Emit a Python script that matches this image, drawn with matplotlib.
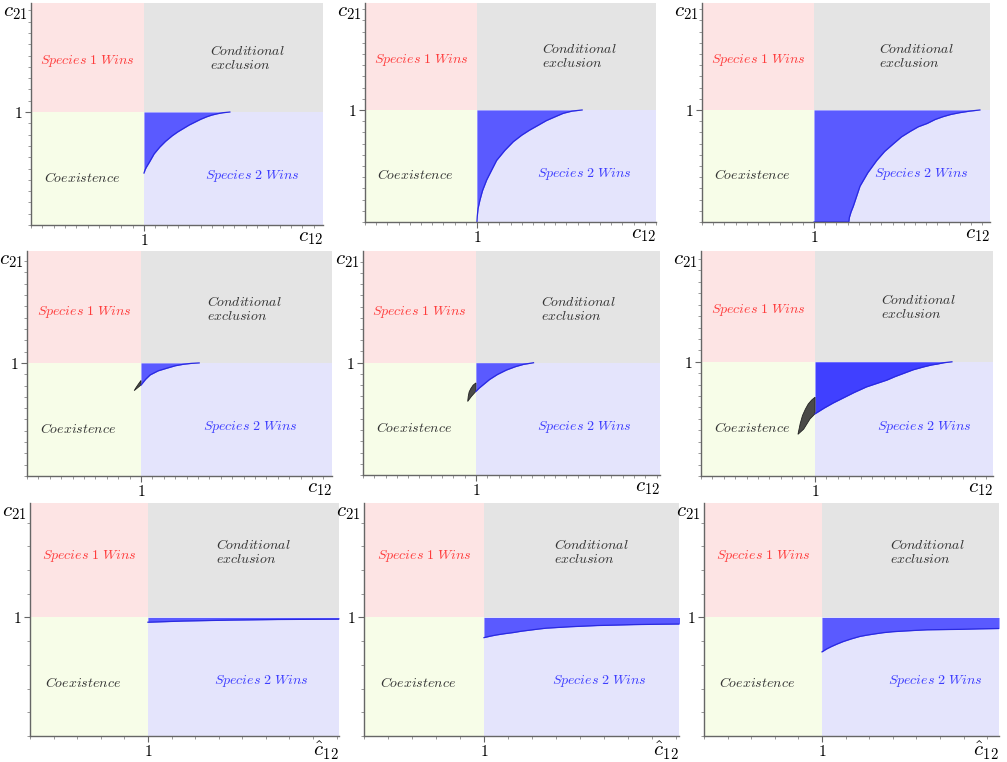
import numpy as np
import matplotlib
matplotlib.use('Agg')
import matplotlib.pyplot as plt
from matplotlib.ticker import MultipleLocator, FixedLocator

plt.rcParams['mathtext.fontset'] = 'cm'
plt.rcParams['font.family'] = 'serif'
plt.rcParams['font.serif'] = ['DejaVu Serif']

# competition threshold on both axes
threshold = 1.0

# lower edge of the blue (bistable) band, one pair per panel
lo_11_x = [1.0, 1.01, 1.02, 1.05, 1.09, 1.14, 1.19, 1.25, 1.30, 1.35, 1.40, 1.45, 1.50,
           1.555, 1.60, 1.65, 1.70, 1.76]
lo_11_y = [0.46, 0.49, 0.51, 0.56, 0.63, 0.69, 0.74, 0.79, 0.825, 0.855, 0.885, 0.91, 0.935,
           0.958, 0.973, 0.985, 0.994, 1.0]
lo_12_x = [1.0, 1.003, 1.01, 1.027, 1.05, 1.087, 1.13, 1.176, 1.25, 1.325, 1.40, 1.47, 1.55,
           1.62, 1.70, 1.77, 1.85, 1.94]
lo_12_y = [0.0, 0.05, 0.12, 0.196, 0.28, 0.375, 0.46, 0.55, 0.64, 0.717, 0.775, 0.82, 0.865,
           0.905, 0.94, 0.97, 0.99, 1.0]
lo_13_x = [1.0, 1.31, 1.315, 1.33, 1.35, 1.38, 1.41, 1.48, 1.56, 1.63, 1.71, 1.78, 1.86,
           1.93, 2.01, 2.08, 2.15, 2.22, 2.30, 2.39, 2.48]
lo_13_y = [0.0, 0.0, 0.04, 0.09, 0.14, 0.23, 0.32, 0.44, 0.55, 0.63, 0.70, 0.76, 0.81,
           0.85, 0.88, 0.915, 0.94, 0.96, 0.976, 0.99, 1.0]
lo_21_x = [1.0, 1.04, 1.08, 1.15, 1.225, 1.30, 1.37, 1.44, 1.51]
lo_21_y = [0.805, 0.855, 0.894, 0.93, 0.953, 0.975, 0.988, 0.996, 1.0]
lo_22_x = [1.0, 1.03, 1.06, 1.12, 1.19, 1.27, 1.35, 1.42, 1.51]
lo_22_y = [0.745, 0.775, 0.80, 0.85, 0.895, 0.935, 0.965, 0.985, 1.0]
lo_23_x = [1.0, 1.04, 1.08, 1.16, 1.22, 1.28, 1.34, 1.395, 1.45, 1.51, 1.57, 1.63, 1.70,
           1.78, 1.86, 1.95, 2.02, 2.07, 2.13, 2.20]
lo_23_y = [0.545, 0.57, 0.595, 0.64, 0.67, 0.70, 0.73, 0.755, 0.78, 0.80, 0.82, 0.84, 0.87,
           0.90, 0.93, 0.955, 0.972, 0.98, 0.992, 1.0]
lo_31_x = [1.0, 1.3, 1.7, 2.1, 2.62]
lo_31_y = [0.96, 0.97, 0.978, 0.983, 0.986]
lo_32_x = [1.0, 1.05, 1.1, 1.17, 1.245, 1.31, 1.38, 1.45, 1.52, 1.62, 1.72, 1.83, 1.94,
           2.1, 2.25, 2.45, 2.63]
lo_32_y = [0.83, 0.842, 0.852, 0.863, 0.873, 0.884, 0.893, 0.902, 0.91, 0.916, 0.922, 0.927,
           0.932, 0.936, 0.94, 0.943, 0.945]
lo_33_x = [1.0, 1.04, 1.08, 1.13, 1.18, 1.25, 1.32, 1.38, 1.45, 1.52, 1.60, 1.70, 1.79,
           1.89, 2.03, 2.17, 2.33, 2.5]
lo_33_y = [0.71, 0.735, 0.755, 0.777, 0.797, 0.82, 0.84, 0.851, 0.862, 0.872, 0.88, 0.886,
           0.891, 0.896, 0.898, 0.90, 0.904, 0.907]

# dark slivers left of c12 = 1 (outer and inner edge, sharing the tip)
sl_21_out_x = [0.94, 0.955, 0.975, 1.0]
sl_21_out_y = [0.755, 0.78, 0.81, 0.845]
sl_21_in_x = [0.94, 0.97, 1.0]
sl_21_in_y = [0.755, 0.78, 0.805]
sl_22_out_x = [0.927, 0.932, 0.94, 0.955, 0.975, 1.0]
sl_22_out_y = [0.655, 0.70, 0.74, 0.77, 0.80, 0.82]
sl_22_in_x = [0.927, 0.96, 1.0]
sl_22_in_y = [0.655, 0.70, 0.745]
sl_23_out_x = [0.85, 0.87, 0.89, 0.915, 0.94, 0.97, 1.0]
sl_23_out_y = [0.365, 0.46, 0.53, 0.585, 0.63, 0.665, 0.69]
sl_23_in_x = [0.85, 0.90, 0.956, 1.0]
sl_23_in_y = [0.365, 0.41, 0.50, 0.545]

lower_x = [lo_11_x, lo_12_x, lo_13_x, lo_21_x, lo_22_x, lo_23_x, lo_31_x, lo_32_x, lo_33_x]
lower_y = [lo_11_y, lo_12_y, lo_13_y, lo_21_y, lo_22_y, lo_23_y, lo_31_y, lo_32_y, lo_33_y]
slivers = {3: (sl_21_out_x, sl_21_out_y, sl_21_in_x, sl_21_in_y),
           4: (sl_22_out_x, sl_22_out_y, sl_22_in_x, sl_22_in_y),
           5: (sl_23_out_x, sl_23_out_y, sl_23_in_x, sl_23_in_y)}

# axes boxes in pixels: left, top, right, bottom ; plus axis extents
boxes = [(31, 3, 323, 225), (365, 3, 656, 222), (702, 3, 990, 222),
         (27, 251, 332, 476), (363, 251, 660, 475), (701, 251, 993, 476),
         (30, 503, 339, 736), (364, 503, 679, 736), (704, 503, 999, 736)]
xmaxs = [2.584, 2.60, 2.57, 2.675, 2.63, 2.56, 2.62, 2.625, 2.5]
ymaxs = [1.965, 1.955, 1.955, 1.99, 1.995, 1.97, 1.966, 1.966, 1.966]

W, H = 1007, 762
fig = plt.figure(figsize=(W / 100, H / 100), dpi=100)

pink = '#fde4e4'
grey = '#e4e4e4'
green = '#f7fde8'
lilac = '#e4e4fc'
text_kw = dict(fontsize=10)

for i, (l, t, r, b) in enumerate(boxes):
    ax = fig.add_axes([l / W, 1 - b / H, (r - l) / W, (b - t) / H])
    xm, ym = xmaxs[i], ymaxs[i]
    ax.set_xlim(0, xm)
    ax.set_ylim(0, ym)

    ax.fill_between([0, threshold], threshold, ym, color=pink, lw=0)
    ax.fill_between([threshold, xm], threshold, ym, color=grey, lw=0)
    ax.fill_between([0, threshold], 0, threshold, color=green, lw=0)
    ax.fill_between([threshold, xm], 0, threshold, color=lilac, lw=0)

    blue = '#4040ff' if i == 5 else '#5a5aff'
    ax.fill_between(lower_x[i], lower_y[i], threshold, color=blue, lw=0)
    ax.plot(lower_x[i], lower_y[i], color='#2a2ae0', lw=0.9)

    if i in slivers:
        ox, oy, ix, iy = slivers[i]
        px = np.concatenate([ox, ix[::-1]])
        py = np.concatenate([oy, iy[::-1]])
        ax.fill(px, py, facecolor='#4a4a48', edgecolor='#222222', lw=0.6)

    # the bottom row sits its labels a little differently
    up_y = 1.52 if i >= 6 else 1.45
    cond_y = 1.55 if i >= 6 else 1.48
    low_y = 0.45 if i >= 6 else 0.42
    ax.text(0.5, up_y, r'$Species\ 1\ Wins$', color='#ff3c3c', ha='center', va='center', **text_kw)
    ax.text(1.58, cond_y, r'$Conditional$' + '\n' + r'$exclusion$', color='#333333',
            ha='left', va='center', linespacing=1.0, **text_kw)
    ax.text(0.45, low_y, r'$Coexistence$', color='#333333', ha='center', va='center', **text_kw)
    ax.text(1.96, low_y + 0.01, r'$Species\ 2\ Wins$', color='#3c3cff', ha='center', va='center',
            **text_kw)

    for side in ('top', 'right'):
        ax.spines[side].set_visible(False)
    for side in ('left', 'bottom'):
        ax.spines[side].set_color('#666666')
        ax.spines[side].set_linewidth(1.0)

    step = 0.2 if i >= 6 else 0.1
    ax.xaxis.set_major_locator(FixedLocator([threshold]))
    ax.yaxis.set_major_locator(FixedLocator([threshold]))
    ax.xaxis.set_minor_locator(MultipleLocator(step))
    ax.yaxis.set_minor_locator(MultipleLocator(step))
    ax.set_xticklabels([r'$1$'])
    ax.set_yticklabels([r'$1$'])
    ax.tick_params(which='major', length=4, width=0.8, color='#666666', labelsize=11, pad=2)
    ax.tick_params(which='minor', length=2, width=0.6, color='#888888')

    ax.text(-0.012, 1.0, r'$c_{21}$', transform=ax.transAxes, ha='right', va='top', fontsize=15)
    xl = r'$\hat{c}_{12}$' if i >= 6 else r'$c_{12}$'
    ax.text(1.0, -0.015, xl, transform=ax.transAxes, ha='right', va='top', fontsize=15)

fig.savefig('out.png', dpi=100)
